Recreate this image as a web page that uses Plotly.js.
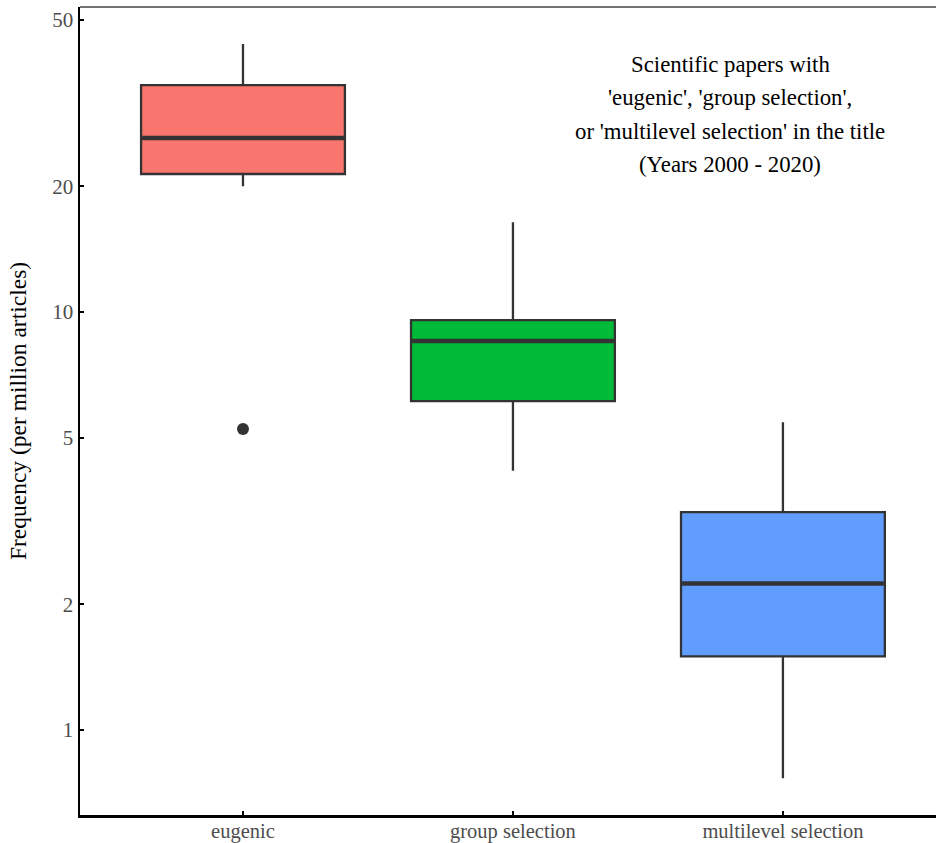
<!DOCTYPE html>
<html>
<head>
<meta charset="utf-8">
<script src="https://cdn.plot.ly/plotly-3.0.1.min.js"></script>
<style>html,body{margin:0;padding:0;background:#fff;}#chart{width:936px;height:843px;}</style>
</head>
<body>
<div id="chart"></div>
<script>
// Data
const categories = ['eugenic', 'group selection', 'multilevel selection'];
const lowerWhisker = [20.0, 4.17, 0.767];
const q1Values = [21.4, 6.12, 1.50];
const medianValues = [26.1, 8.53, 2.24];
const q3Values = [34.9, 9.57, 3.32];
const upperWhisker = [43.8, 16.4, 5.45];
const outlierCategory = ['eugenic'];
const outlierValues = [5.25];
const fillColors = ['#F8766D', '#00BA38', '#619CFF'];
const titleLines = ['Scientific papers with', "'eugenic', 'group selection',", "or 'multilevel selection' in the title", '(Years 2000 - 2020)'];

const FONT = 'Liberation Serif';
const OUTLINE = '#333333';
const BOXW = 0.755;

const traces = [];
categories.forEach((c, i) => {
  traces.push({
    type: 'box',
    x: [i],
    q1: [q1Values[i]],
    median: [medianValues[i]],
    q3: [q3Values[i]],
    lowerfence: [lowerWhisker[i]],
    upperfence: [upperWhisker[i]],
    width: BOXW,
    whiskerwidth: 0,
    fillcolor: fillColors[i],
    line: {color: OUTLINE, width: 2.3},
    boxpoints: false,
    hoverinfo: 'skip',
    showlegend: false
  });
});
// thicker median bars
categories.forEach((c, i) => {
  traces.push({
    type: 'scatter', mode: 'lines',
    x: [i - BOXW / 2 + 0.004, i + BOXW / 2 - 0.004],
    y: [medianValues[i], medianValues[i]],
    line: {color: OUTLINE, width: 4.5},
    hoverinfo: 'skip', showlegend: false
  });
});
traces.push({
  type: 'scatter', mode: 'markers',
  x: outlierCategory.map(c => categories.indexOf(c)),
  y: outlierValues,
  marker: {color: OUTLINE, size: 12},
  hoverinfo: 'skip', showlegend: false
});

const annotations = titleLines.map((t, k) => ({
  text: t, xref: 'paper', yref: 'paper',
  x: (730 - 80) / 856, xanchor: 'center',
  y: 1 - (65 + 33 * k - 7) / 808, yanchor: 'middle',
  showarrow: false,
  font: {family: FONT, size: 22.8, color: '#000000'}
}));

const layout = {
  width: 936, height: 843,
  margin: {l: 80, r: 0, t: 7, b: 28},
  paper_bgcolor: '#ffffff', plot_bgcolor: '#ffffff',
  font: {family: FONT},
  xaxis: {
    range: [-0.6037, 2.567],
    tickmode: 'array', tickvals: categories.map((c, i) => i), ticktext: categories,
    showgrid: false, zeroline: false,
    showline: true, linecolor: '#000000', linewidth: 2.5,
    ticks: 'inside', ticklen: 4, tickwidth: 2, tickcolor: '#000000',
    ticklabelstandoff: -4,
    tickfont: {family: FONT, size: 20.5, color: '#4D4D4D'}
  },
  yaxis: {
    type: 'log',
    range: [-0.2034, 1.730],
    tickmode: 'array', tickvals: [1, 2, 5, 10, 20, 50], ticktext: ['1', '2', '5', '10', '20', '50'],
    showgrid: false, zeroline: false,
    showline: true, linecolor: '#000000', linewidth: 2.5,
    ticks: 'inside', ticklen: 4, tickwidth: 2, tickcolor: '#000000',
    tickfont: {family: FONT, size: 21, color: '#4D4D4D'},
    title: {text: 'Frequency (per million articles)', font: {family: FONT, size: 23.5, color: '#000000'}, standoff: 19}
  },
  shapes: [{
    type: 'line', xref: 'paper', yref: 'paper', x0: 0, x1: 1, y0: 1, y1: 1,
    line: {color: '#444444', width: 1.5}
  }],
  annotations: annotations
};

Plotly.newPlot('chart', traces, layout, {displayModeBar: false, staticPlot: true});
</script>
</body>
</html>
